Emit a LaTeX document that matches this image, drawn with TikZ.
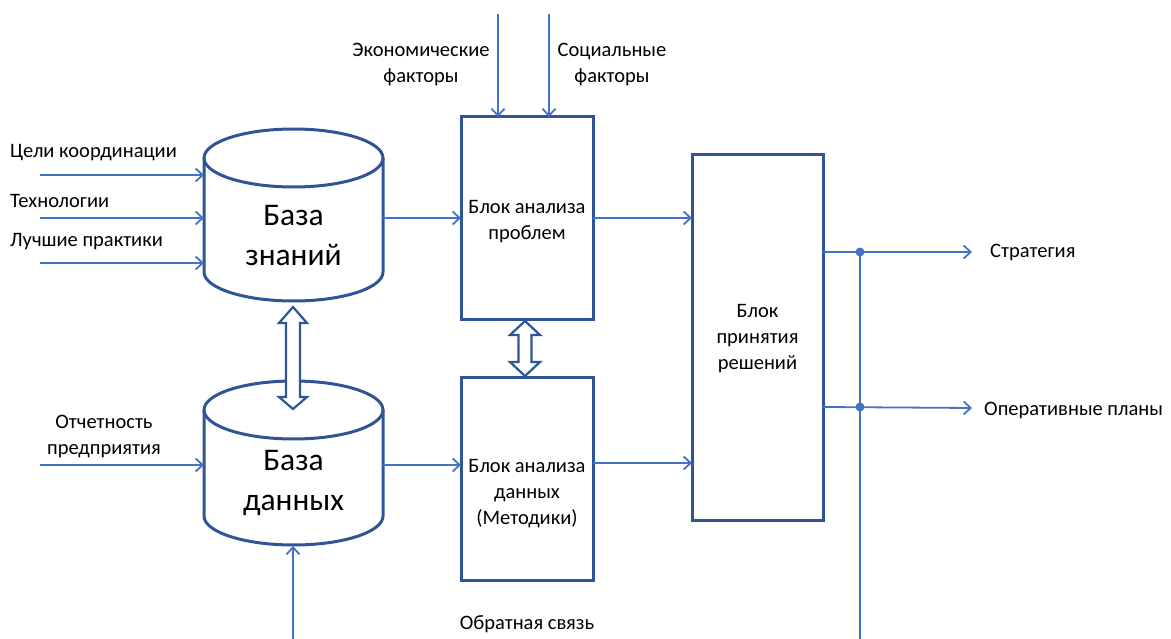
\documentclass[tikz,border=0pt]{standalone}
\usepackage{fontspec}
\setmainfont{Carlito}
\usetikzlibrary{arrows.meta}
\definecolor{boxblue}{HTML}{2F5597}
\definecolor{lineblue}{HTML}{4472C4}
\begin{document}
\begin{tikzpicture}[x=1pt,y=-1pt,
  box/.style={draw=boxblue,line width=3pt,inner sep=0pt,outer sep=0pt,align=center,font=\fontsize{20.5}{26}\selectfont},
  flow/.style={draw=lineblue,line width=1.8pt,-{Straight Barb[length=7pt,width=13pt,line width=1.8pt]}},
  plain/.style={draw=lineblue,line width=1.8pt},
  lbl/.style={inner sep=0pt,align=center,font=\fontsize{20.5}{26}\selectfont},
  big/.style={inner sep=0pt,align=center,font=\fontsize{31.5}{40}\selectfont},
  hollow/.style={draw=boxblue,line width=2.2pt,fill=white,line join=miter},
  dot/.style={circle,fill=lineblue,inner sep=0pt,minimum size=9pt}]
\useasboundingbox (0,0) rectangle (1171,639);

% cylinders
\foreach \t/\b in {158/272, 410/516}{
  \draw[boxblue,line width=3pt] (204,\t) -- (204,\b) arc[start angle=180,end angle=360,x radius=89.5pt,y radius=29pt] -- (383,\t);
  \draw[boxblue,line width=3pt] (293.5,\t) ellipse[x radius=89.5pt,y radius=29pt];
}
\node[inner sep=0pt,outer sep=0pt,minimum width=179pt,minimum height=172pt] (kb) at (293.5,215) {};
\node[inner sep=0pt,outer sep=0pt,minimum width=179pt,minimum height=164pt] (db) at (293.5,463) {};
\node[big] (kbt) at (293.5,236) {База\\знаний};
\node[big] (dbt) at (293.5,483) {База\\данных};

% boxes
\node[box,minimum width=132pt,minimum height=203pt] (b1) at (527,218.5) {};
\node[lbl] (b1t) at (527,222) {Блок анализа\\проблем};
\node[box,minimum width=132pt,minimum height=203pt] (b2) at (527,478.5) {};
\node[lbl] (b2t) at (527,494) {Блок анализа\\данных\\(Методики)};
\node[box,minimum width=131pt,minimum height=365pt] (b3) at (757.5,337.5) {};
\node[lbl] (b3t) at (757.5,339) {Блок\\принятия\\решений};

% left inputs
\coordinate (i1) at (40,175);
\coordinate (i2) at (40,218);
\coordinate (i3) at (40,263);
\coordinate (i4) at (40,465);
\draw[flow] (i1) -- (kb.west |- i1);
\draw[flow] (i2) -- (kb.west |- i2);
\draw[flow] (i3) -- (kb.west |- i3);
\draw[flow] (i4) -- (db.west |- i4);
\node[lbl,anchor=west] (l1) at (10,153) {Цели координации};
\node[lbl,anchor=west] (l2) at (10,201) {Технологии};
\node[lbl,anchor=west] (l3) at (10,242) {Лучшие практики};
\node[lbl] (l4) at (104,436.5) {Отчетность\\предприятия};

% top inputs
\coordinate (t1) at (498,14);
\coordinate (t2) at (549,14);
\draw[flow] (t1) -- (t1 |- b1.north);
\draw[flow] (t2) -- (t2 |- b1.north);
\node[lbl] (tl1) at (421,65) {Экономические\\факторы};
\node[lbl] (tl2) at (612,65) {Социальные\\факторы};

% middle connections
\draw[flow] (kb.east |- 0,218) -- (b1.west |- 0,218);
\draw[flow] (db.east |- 0,465) -- (b2.west |- 0,465);
\draw[flow] (b1.east |- 0,218) -- (b3.west |- 0,218);
\draw[flow] (b2.east |- 0,463) -- (b3.west |- 0,463);

% outputs
\coordinate (o1) at (972,252);
\coordinate (o2) at (972,408);
\draw[flow] (b3.east |- o1) -- (o1);
\draw[flow] (b3.east |- 0,407) -- (o2);
\node[lbl,anchor=west] (ol1) at (990,253) {Стратегия};
\node[lbl,anchor=west] (ol2) at (984,410) {Оперативные планы};
\node[dot] (d1) at (860,252) {};
\node[dot] (d2) at (860,407) {};
\coordinate (fbB) at (860,639);
\draw[plain] (d1.center) -- (fbB);

% feedback
\coordinate (fbA) at (293,639);
\draw[flow] (fbA) -- (293,546);
\node[lbl] (fbl) at (527,624) {Обратная связь};

% hollow double arrows
\draw[hollow] (293,307) -- (307,323) -- (300,323) -- (300,397) -- (307,397) -- (293,409) -- (279,397) -- (286,397) -- (286,323) -- (279,323) -- cycle;
\draw[hollow] (525,321) -- (540,335) -- (531.5,335) -- (531.5,362) -- (540,362) -- (525,376) -- (510,362) -- (518.5,362) -- (518.5,335) -- (510,335) -- cycle;
\end{tikzpicture}
\end{document}
